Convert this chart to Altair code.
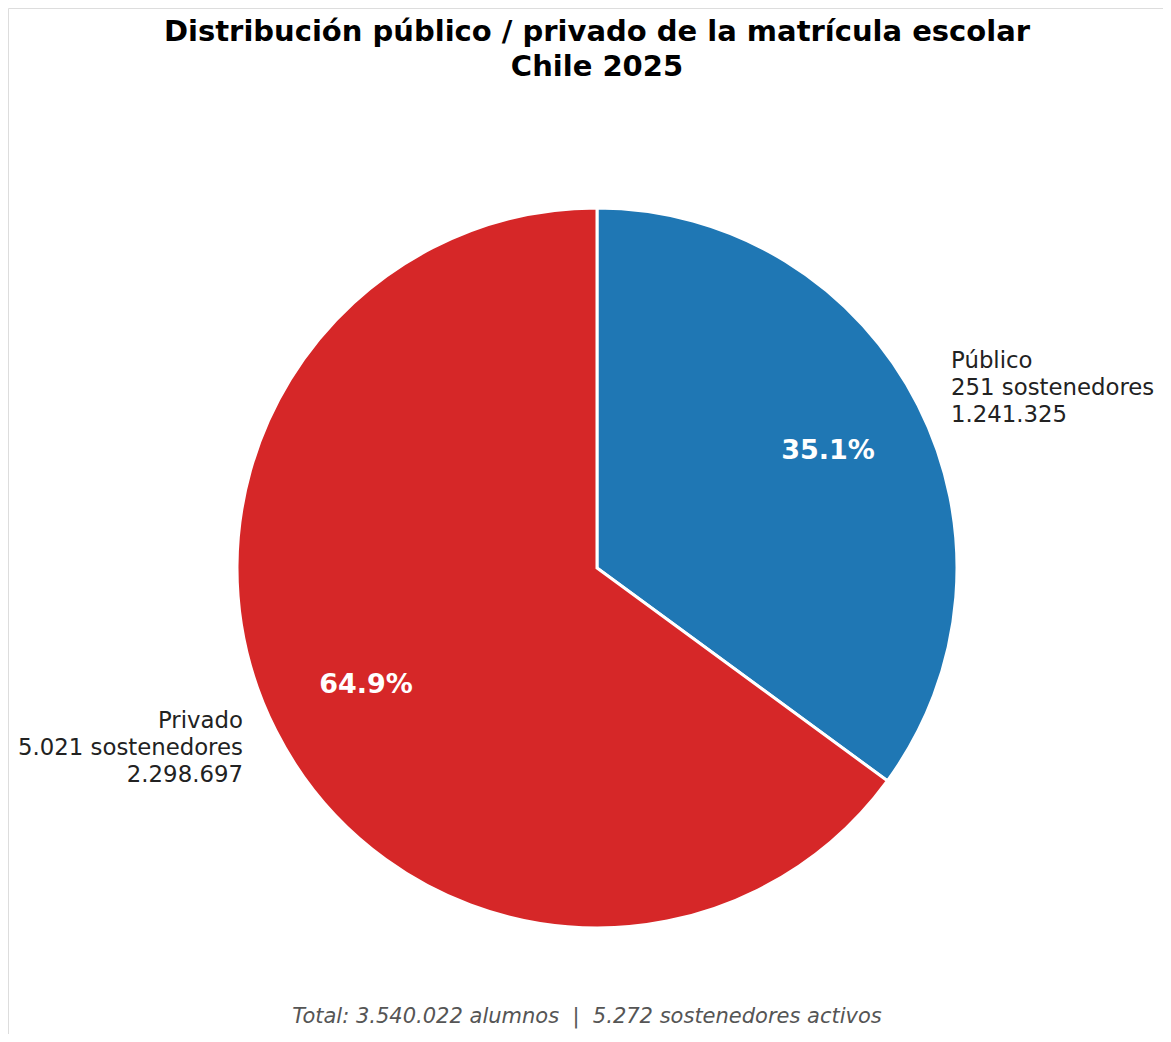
import altair as alt
import pandas as pd

categories = ["Público", "Privado"]
alumnos = [1241325, 2298697]
sostenedores = [251, 5021]
colors = ["#1f77b4", "#d62728"]
title_lines = ["Distribución público / privado de la matrícula escolar", "Chile 2025"]

def fmt(n):
    return f"{n:,}".replace(",", ".")

total = sum(alumnos)
total_sost = sum(sostenedores)
df = pd.DataFrame({
    "cat": categories,
    "val": alumnos,
    "order": [0, 1],
    "pct": [f"{v / total * 100:.1f}%" for v in alumnos],
    "label": [[c, f"{fmt(s)} sostenedores", fmt(v)] for c, s, v in zip(categories, sostenedores, alumnos)],
})
NB = "\u00a0"
footer = f"Total: {fmt(total)} alumnos {NB}|{NB} {fmt(total_sost)} sostenedores activos"

W, H = 1155, 1026
CX, CY = 589, 560
R = 360

base = alt.Chart(df).encode(
    theta=alt.Theta("val:Q", stack=True),
    order=alt.Order("order:Q"),
)

pie = base.mark_arc(stroke="white", strokeWidth=3, x=CX, y=CY).encode(
    radius=alt.value(R),
    color=alt.Color("cat:N", scale=alt.Scale(domain=categories, range=colors), legend=None),
)

pct = base.mark_text(x=CX, y=CY, fontSize=27, fontWeight="bold", color="white",
                     font="DejaVu Sans", baseline="middle", align="center").encode(
    radius=alt.value(259), text="pct:N")

lab_base = alt.Chart(df).transform_window(
    cum="sum(val)", sort=[alt.SortField("order")]
).transform_joinaggregate(tot="sum(val)").transform_calculate(
    mid="datum.cum - datum.val / 2"
)
theta_mid = alt.Theta("mid:Q", scale=alt.Scale(domain=[0, total], range=[0, 6.283185307179586]), stack=None)

lab_pub = lab_base.transform_filter(alt.datum.order == 0).mark_text(
    x=CX, y=CY, dy=-27, fontSize=22.8, color="#222222", font="DejaVu Sans",
    baseline="middle", align="left", lineHeight=27).encode(
    theta=theta_mid, radius=alt.value(397), text="label:N")
lab_pri = lab_base.transform_filter(alt.datum.order == 1).mark_text(
    x=CX, y=CY, dy=-27, fontSize=22.8, color="#222222", font="DejaVu Sans",
    baseline="middle", align="right", lineHeight=27).encode(
    theta=theta_mid, radius=alt.value(397), text="label:N")

tdf = pd.DataFrame({"t": title_lines, "y": [24, 59]})
title = alt.Chart(tdf).mark_text(fontSize=29, fontWeight="bold", color="black",
                                 font="DejaVu Sans", align="center", baseline="middle").encode(
    x=alt.value(589), y=alt.Y("y:Q", scale=None), text="t:N")

fdf = pd.DataFrame({"t": [footer]})
foot = alt.Chart(fdf).mark_text(fontSize=21, fontStyle="italic", color="#555555",
                                font="DejaVu Sans", align="center", baseline="middle").encode(
    x=alt.value(579), y=alt.value(1009), text="t:N")

chart = alt.layer(pie, pct, lab_pub, lab_pri, title, foot).properties(
    width=W, height=H, padding=0, autosize=alt.AutoSizeParams(type="none")
).configure_view(stroke=None, strokeWidth=0).configure(background="white")

chart.save("out.html", embed_options={"renderer": "svg", "actions": False})
